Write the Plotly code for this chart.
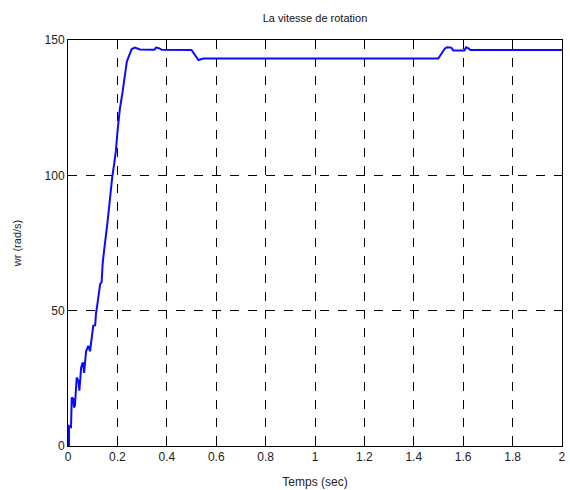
import plotly.graph_objects as go

# Time (s) and rotor speed (rad/s)
t = [0.0, 0.004, 0.004, 0.012, 0.015, 0.021, 0.024, 0.028, 0.035, 0.042, 0.046, 0.053,
     0.060, 0.065, 0.073, 0.082, 0.089, 0.096, 0.102, 0.110, 0.113, 0.119, 0.123, 0.130,
     0.136, 0.140, 0.146, 0.154, 0.159, 0.167, 0.173, 0.179, 0.187, 0.194, 0.200, 0.210,
     0.221, 0.231, 0.238, 0.248, 0.258, 0.271, 0.291, 0.350, 0.356, 0.368, 0.380, 0.500,
     0.515, 0.528, 0.548, 1.000, 1.499, 1.526, 1.535, 1.552, 1.560, 1.605, 1.612, 1.620,
     1.630, 2.000]
w = [0.0, 0.0, 7.4, 7.0, 17.9, 17.5, 14.2, 15.0, 25.3, 24.0, 20.4, 29.0,
     30.9, 27.0, 35.0, 37.0, 35.0, 39.5, 44.4, 44.6, 48.8, 52.5, 55.6, 59.9,
     60.5, 67.3, 72.2, 77.2, 82.1, 88.9, 94.4, 99.4, 104.3, 109.3, 116.0, 124.7,
     130.9, 138.3, 142.0, 144.4, 146.7, 147.2, 146.5, 146.4, 147.2, 147.0, 146.4, 146.3,
     144.5, 142.6, 143.2, 143.2, 143.2, 146.9, 147.3, 147.2, 146.1, 146.1, 147.3, 147.0,
     146.3, 146.3]

x_ticks = [0, 0.2, 0.4, 0.6, 0.8, 1, 1.2, 1.4, 1.6, 1.8, 2]
x_tick_labels = ["0", "0.2", "0.4", "0.6", "0.8", "1", "1.2", "1.4", "1.6", "1.8", "2"]
y_ticks = [0, 50, 100, 150]
y_tick_labels = ["0", "50", "100", "150"]

font = "Liberation Sans, Arial, sans-serif"

fig = go.Figure()
fig.add_trace(go.Scatter(x=t, y=w, mode="lines",
                         line=dict(color="#0a0aff", width=2), showlegend=False))

axis_common = dict(
    showline=True, linecolor="black", linewidth=1, mirror="ticks",
    ticks="inside", ticklen=5, tickcolor="black",
    showgrid=True, gridcolor="black", griddash="dash", gridwidth=1,
    zeroline=False, automargin=False,
    tickfont=dict(family=font, size=12, color="#222"),
)

fig.update_xaxes(range=[-0.0002, 2.0002], tickvals=x_ticks, ticktext=x_tick_labels,
                 title=dict(text="Temps (sec)", font=dict(family=font, size=12, color="#222"), standoff=14),
                 **axis_common)
fig.update_yaxes(range=[-0.01, 150.01], tickvals=y_ticks, ticktext=y_tick_labels,
                 title=dict(text="wr (rad/s)", font=dict(family=font, size=11, color="#222"), standoff=20),
                 **axis_common)

fig.update_layout(
    width=570, height=490,
    margin=dict(l=68, r=8, t=40, b=44, autoexpand=False),
    paper_bgcolor="white", plot_bgcolor="white",
    title=dict(text="La vitesse de rotation", x=(68 + 562) / 2 / 570, xanchor="center",
               y=1 - 18 / 490, yanchor="middle",
               font=dict(family=font, size=11, color="#111")),
)

fig.write_html("out.html", config={"displayModeBar": False},
               post_script="document.body.style.margin='0';document.body.style.overflow='hidden';")
